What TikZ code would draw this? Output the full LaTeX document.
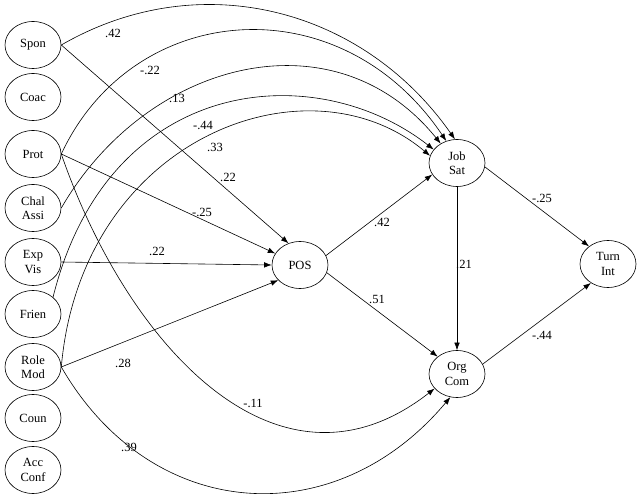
\documentclass[tikz,border=0pt]{standalone}
\usepackage{fontspec}
\setmainfont{Liberation Serif}
\usetikzlibrary{shapes.geometric,arrows.meta}
\begin{document}
\begin{tikzpicture}[x=1pt,y=1pt,line width=0.6pt,
    var/.style={draw,ellipse,minimum width=56pt,minimum height=47pt,inner sep=0pt,
      align=center,font=\fontsize{12.5}{14.5}\selectfont},
    arr/.style={-{Latex[length=7.5pt,width=5.5pt]}},
    coef/.style={inner sep=0pt,font=\fontsize{12.5}{14.5}\selectfont}]
  \useasboundingbox (0,0) rectangle (639,498);
  \node[var] (spon) at (33,453) {Spon};
  \node[var] (coac) at (33,401) {Coac};
  \node[var] (prot) at (33,344) {Prot};
  \node[var] (chal) at (33,290) {Chal\\Assi};
  \node[var] (expvis) at (33,236) {Exp\\Vis};
  \node[var] (frien) at (33,184) {Frien};
  \node[var] (rolemod) at (33,131) {Role\\Mod};
  \node[var] (coun) at (33,80) {Coun};
  \node[var] (accconf) at (33,28) {Acc\\Conf};
  \node[var] (pos) at (300,233) {POS};
  \node[var] (jobsat) at (457,335) {Job\\Sat};
  \node[var] (orgcom) at (457,124) {Org\\Com};
  \node[var] (turnint) at (608,234) {Turn\\Int};

  \draw[arr] (spon.east) .. controls +(30:160) and +(125:160) .. (jobsat.95);
  \draw[arr] (prot.east) .. controls +(65:170) and +(124:190) .. (jobsat.116);
  \draw[arr] (chal.east) .. controls +(60:170) and +(129:170) .. (jobsat.130);
  \draw[arr] (frien.40) .. controls +(76:230) and +(142:150) .. (jobsat.150);
  \draw[arr] (rolemod.east) .. controls +(85:230) and +(140:160) .. (jobsat.165);
  \draw[arr] (prot.east) .. controls +(-71:200) and +(218:200) .. (orgcom.213);
  \draw[arr] (rolemod.east) .. controls +(-60:180) and +(230:180) .. (orgcom.254);

  \draw[arr] (spon.east) -- (pos.118);
  \draw[arr] (prot.east) -- (pos);
  \draw[arr] (expvis.east) -- (pos.west);
  \draw[arr] (rolemod.east) -- (pos.215);
  \draw[arr] (pos.20) -- (jobsat.205);
  \draw[arr] (pos.-16) -- (orgcom.138);
  \draw[arr] (jobsat) -- (orgcom);
  \draw[arr] (jobsat.-8) -- (turnint.137);
  \draw[arr] (orgcom.21) -- (turnint.228);

  \node[coef] (c-spon-job) at (113,465) {.42};
  \node[coef] (c-prot-job) at (150,428) {-.22};
  \node[coef] (c-chal-job) at (177,400) {.13};
  \node[coef] (c-frien-job) at (203,373) {-.44};
  \node[coef] (c-role-job) at (215,351) {.33};
  \node[coef] (c-spon-pos) at (228,321) {.22};
  \node[coef] (c-prot-pos) at (202,286) {-.25};
  \node[coef] (c-exp-pos) at (157,247) {.22};
  \node[coef] (c-role-pos) at (123,135) {.28};
  \node[coef] (c-prot-org) at (253,95) {-.11};
  \node[coef] (c-role-org) at (129,51) {.39};
  \node[coef] (c-pos-job) at (382,276) {.42};
  \node[coef] (c-pos-org) at (377,199) {.51};
  \node[coef] (c-job-org) at (464,234) {.21};
  \node[coef] (c-job-turn) at (542,300) {-.25};
  \node[coef] (c-org-turn) at (542,163) {-.44};
\end{tikzpicture}
\end{document}
